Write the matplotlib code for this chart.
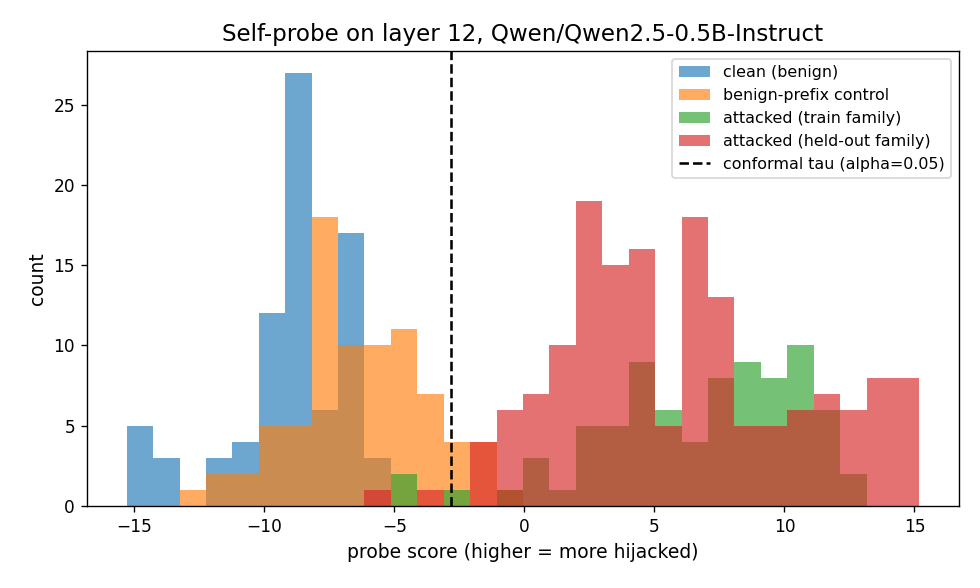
import numpy as np
import matplotlib
matplotlib.use('Agg')
import matplotlib.pyplot as plt

# shared histogram bins (30 bins over the pooled score range)
SCORE_MIN = -15.30
SCORE_MAX = 15.19
N_BINS = 30

# counts per bin
clean = [5, 3, 0, 3, 4, 12, 27, 6, 17, 3,
         0, 0, 0, 0, 0, 0, 0, 0, 0, 0,
         0, 0, 0, 0, 0, 0, 0, 0, 0, 0]
benign_prefix = [0, 0, 1, 2, 2, 5, 5, 18, 10, 10,
                 11, 7, 4, 4, 1, 0, 0, 0, 0, 0,
                 0, 0, 0, 0, 0, 0, 0, 0, 0, 0]
attacked_train = [0, 0, 0, 0, 0, 0, 0, 0, 0, 0,
                  2, 0, 1, 0, 1, 3, 1, 5, 5, 9,
                  6, 4, 8, 9, 8, 10, 6, 2, 0, 0]
attacked_heldout = [0, 0, 0, 0, 0, 0, 0, 0, 0, 1,
                    0, 1, 0, 4, 6, 7, 10, 19, 15, 16,
                    5, 18, 13, 5, 5, 6, 7, 6, 8, 8]
tau = -2.84

series = [
    ('clean (benign)', clean),
    ('benign-prefix control', benign_prefix),
    ('attacked (train family)', attacked_train),
    ('attacked (held-out family)', attacked_heldout),
]

edges = np.linspace(SCORE_MIN, SCORE_MAX, N_BINS + 1)
centers = (edges[:-1] + edges[1:]) / 2

fig, ax = plt.subplots(figsize=(8, 4.8), dpi=122.5)
plt.subplots_adjust(left=0.0888, right=0.9786, top=0.9133, bottom=0.1395)

for label, counts in series:
    ax.hist(centers, bins=edges, weights=counts, alpha=0.65, label=label)

ax.axvline(tau, color='black', linestyle='--', linewidth=1.5,
           label='conformal tau (alpha=0.05)')

ax.set_title('Self-probe on layer 12, Qwen/Qwen2.5-0.5B-Instruct', fontsize=13.5)
ax.set_xlabel('probe score (higher = more hijacked)', fontsize=11)
ax.set_ylabel('count', fontsize=11)
ax.tick_params(labelsize=10)
ax.legend(loc='upper right', fontsize=9.3)

fig.savefig('out.png', dpi=122.5)
